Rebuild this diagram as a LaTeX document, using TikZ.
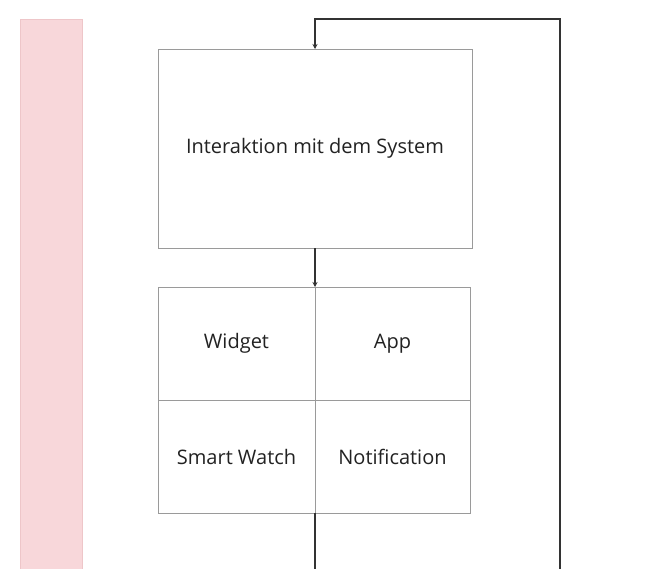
\documentclass[tikz,border=0pt]{standalone}
\usepackage{fontspec}
\setmainfont{Open Sans}
\usepackage{xcolor}
\definecolor{lane}{HTML}{F8D7DA}
\definecolor{laneb}{HTML}{EEC6C9}
\definecolor{edge}{HTML}{9A9A9A}
\definecolor{ink}{HTML}{222222}
\definecolor{wire}{HTML}{333333}
\usetikzlibrary{arrows.meta,positioning}
\tikzset{
  >={Stealth[length=5pt,width=5pt]},
  box/.style={draw=edge,line width=0.9pt,fill=white,inner sep=0pt,outer sep=0pt,font=\fontsize{20}{24}\selectfont\color{ink},align=center},
  cell/.style={box,minimum width=157pt,minimum height=113pt},
  arr/.style={->,draw=wire,line width=1.4pt},
  wre/.style={draw=wire,line width=1.4pt},
}
\begin{document}
\begin{tikzpicture}[x=1pt,y=-1pt,node distance=0pt]
\useasboundingbox (0,0) rectangle (648,568);
\fill[lane,draw=laneb,line width=0.8pt] (20,19) rectangle (82,570);
\node[box,minimum width=314pt,minimum height=199pt] (sys) at (315,148.5) {Interaktion mit dem System};
\node[cell,anchor=north east] (widget) at (315,287) {Widget};
\node[cell,minimum width=155pt,right=of widget] (app) {App};
\node[cell,below=of widget] (watch) {Smart Watch};
\node[cell,minimum width=155pt,below=of app] (notif) {Notification};
\coordinate (loopin) at (560,570);
\coordinate (loopr) at (560,19);
\coordinate (loopl) at (sys.north |- loopr);
\coordinate (exit) at (315,570);
\draw[arr] (sys.south) -- (widget.north east);
\draw[wre] (watch.south east) -- (exit);
\draw[arr] (loopin) -- (loopr) -- (loopl) -- (sys.north);
\end{tikzpicture}
\end{document}
